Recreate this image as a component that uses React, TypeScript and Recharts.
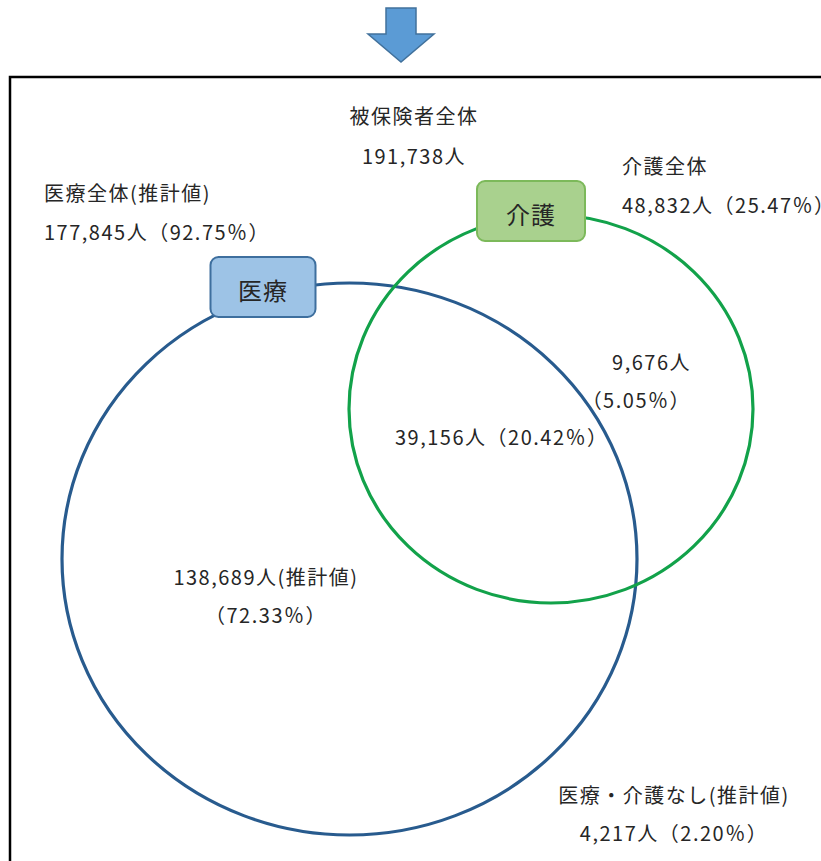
import { ScatterChart, Scatter, XAxis, YAxis, ReferenceArea } from 'recharts';

// chart canvas in "layout units" (1 unit = 1px at this size)
const W = 821;
const H = 861;

// counts / shares for each region of the diagram
const regionKeys = ['total', 'medicalAll', 'careAll', 'careOnly', 'both', 'medicalOnly', 'neither'];
const regionTitles = ['被保険者全体', '医療全体(推計値)', '介護全体', '', '', '', '医療・介護なし(推計値)'];
const regionCounts = [191738, 177845, 48832, 9676, 39156, 138689, 4217];
const regionShares = [null, 92.75, 25.47, 5.05, 20.42, 72.33, 2.2];

// the two sets
const setNames = ['医療', '介護'];

const FONT = "'Noto Sans CJK JP', 'Noto Sans', sans-serif";
const TEXT = '#262626';

const fmtCount = (n: number) => n.toLocaleString('en-US') + '人';
const fmtShare = (p: number | null) => (p == null ? '' : '（' + p.toFixed(2) + '％）');

// where each label block sits
const labelLayout: Record<string, { x: number; y: number; anchor: 'start' | 'middle' | 'end'; gap: number }> = {
  total: { x: 414, y: 115, anchor: 'middle', gap: 40 },
  medicalAll: { x: 44, y: 192, anchor: 'start', gap: 39 },
  careAll: { x: 622, y: 165, anchor: 'start', gap: 39 },
  careOnly: { x: 691, y: 361, anchor: 'end', gap: 38 },
  both: { x: 395, y: 436, anchor: 'start', gap: 0 },
  medicalOnly: { x: 266, y: 576, anchor: 'middle', gap: 38 },
  neither: { x: 674, y: 794, anchor: 'middle', gap: 38 },
};

function linesFor(i: number): string[] {
  const key = regionKeys[i];
  const c = fmtCount(regionCounts[i]);
  const s = fmtShare(regionShares[i]);
  if (key === 'careOnly') return [c, s];
  if (key === 'both') return [c + s];
  if (key === 'medicalOnly') return [c + '(推計値)', s];
  return [regionTitles[i], c + s];
}

const labelData = regionKeys.map((key, i) => ({
  x: labelLayout[key].x,
  y: labelLayout[key].y,
  anchor: labelLayout[key].anchor,
  gap: labelLayout[key].gap,
  lines: linesFor(i),
}));

// circle geometry (layout units)
const circleData = [
  { name: setNames[0], x: 349.5, y: 559, rx: 287.5, ry: 276, stroke: '#285b8e' },
  { name: setNames[1], x: 551, y: 409, rx: 202, ry: 194, stroke: '#12a24a' },
];

const tagData = [
  { name: setNames[0], x: 263, y: 287, w: 105, h: 60, fill: '#9dc3e6', stroke: '#3e6f9e' },
  { name: setNames[1], x: 531, y: 211, w: 108, h: 60, fill: '#a9d18e', stroke: '#7cb95a' },
];

const arrowData = [{ x: 401, y: 35 }];

const px = 1; // pixels per layout unit (plot area == domain)

const CircleShape = (props: any) => {
  const { cx, cy, payload } = props;
  return (
    <ellipse
      cx={cx}
      cy={cy}
      rx={payload.rx * px}
      ry={payload.ry * px}
      fill="none"
      stroke={payload.stroke}
      strokeWidth={3.2}
    />
  );
};

const TagShape = (props: any) => {
  const { cx, cy, payload } = props;
  const w = payload.w * px;
  const h = payload.h * px;
  return (
    <g>
      <rect
        x={cx - w / 2}
        y={cy - h / 2}
        width={w}
        height={h}
        rx={8}
        ry={8}
        fill={payload.fill}
        stroke={payload.stroke}
        strokeWidth={2}
      />
      <text
        x={cx}
        y={cy + 2}
        textAnchor="middle"
        dominantBaseline="central"
        fontFamily={FONT}
        fontSize={24}
        letterSpacing={1}
        fill={TEXT}
      >
        {payload.name}
      </text>
    </g>
  );
};

const LabelShape = (props: any) => {
  const { cx, cy, payload } = props;
  return (
    <g>
      {payload.lines.map((ln: string, k: number) => (
        <text
          key={k}
          x={cx}
          y={cy + k * payload.gap}
          textAnchor={payload.anchor}
          dominantBaseline="central"
          fontFamily={FONT}
          fontSize={20}
          letterSpacing={1.5}
          fill={TEXT}
        >
          {ln}
        </text>
      ))}
    </g>
  );
};

const ArrowShape = (props: any) => {
  const { cx, cy } = props;
  const pts = [
    [cx - 15, cy - 27],
    [cx + 15, cy - 27],
    [cx + 15, cy - 1],
    [cx + 33, cy - 1],
    [cx, cy + 27],
    [cx - 33, cy - 1],
    [cx - 15, cy - 1],
  ]
    .map((p) => p.join(','))
    .join(' ');
  return <polygon points={pts} fill="#5b9bd5" stroke="#41719c" strokeWidth={1.5} />;
};

export default function App() {
  return (
    <div style={{ position: 'absolute', left: 0, top: 0, background: '#fff' }}>
      <ScatterChart width={W} height={H} margin={{ top: 0, right: 0, bottom: 0, left: 0 }}>
        <XAxis type="number" dataKey="x" domain={[0, W]} hide allowDataOverflow />
        <YAxis type="number" dataKey="y" domain={[0, H]} reversed hide allowDataOverflow />
        <ReferenceArea
          x1={10}
          x2={W + 20}
          y1={77}
          y2={H + 20}
          fill="none"
          stroke="#000"
          strokeWidth={2.5}
          fillOpacity={0}
          ifOverflow="visible"
        />
        <Scatter data={arrowData} shape={ArrowShape} isAnimationActive={false} />
        <Scatter data={circleData} shape={CircleShape} isAnimationActive={false} />
        <Scatter data={tagData} shape={TagShape} isAnimationActive={false} />
        <Scatter data={labelData} shape={LabelShape} isAnimationActive={false} />
      </ScatterChart>
    </div>
  );
}
